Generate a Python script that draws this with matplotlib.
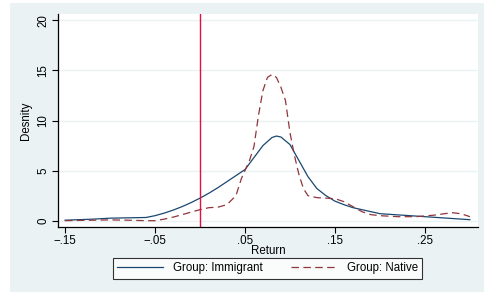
import matplotlib
matplotlib.use("Agg")
import matplotlib.pyplot as plt
from matplotlib.patches import Rectangle

# density curves
x_imm = [-0.15, -0.12, -0.10, -0.06, -0.05, -0.04, -0.03, -0.02, -0.01, 0.0,
         0.01, 0.02, 0.03, 0.04, 0.05, 0.06, 0.07, 0.08, 0.085, 0.09, 0.10,
         0.11, 0.12, 0.13, 0.14, 0.15, 0.16, 0.17, 0.20, 0.25, 0.30]
y_imm = [0.05, 0.15, 0.25, 0.32, 0.5, 0.75, 1.05, 1.4, 1.8, 2.25,
         2.75, 3.3, 3.9, 4.5, 5.1, 6.3, 7.5, 8.3, 8.45, 8.35, 7.6,
         6.0, 4.4, 3.2, 2.5, 1.95, 1.6, 1.3, 0.7, 0.4, 0.1]

x_nat = [-0.15, -0.12, -0.10, -0.08, -0.06, -0.05, -0.04, -0.03, -0.02, -0.01,
         0.0, 0.01, 0.02, 0.03, 0.04, 0.046, 0.05, 0.055, 0.06, 0.065, 0.07,
         0.075, 0.08, 0.085, 0.09, 0.095, 0.10, 0.105, 0.11, 0.115, 0.12,
         0.13, 0.14, 0.15, 0.16, 0.17, 0.18, 0.19, 0.20, 0.22, 0.24, 0.26,
         0.28, 0.29, 0.30]
y_nat = [0.0, 0.05, 0.08, 0.05, 0.0, 0.0, 0.15, 0.35, 0.6, 0.85,
         1.1, 1.3, 1.35, 1.6, 2.5, 4.2, 5.0, 6.0, 7.4, 10.5, 13.0,
         14.3, 14.6, 14.3, 13.3, 12.0, 8.8, 6.5, 4.6, 3.2, 2.5,
         2.3, 2.25, 2.2, 1.9, 1.4, 0.9, 0.6, 0.5, 0.4, 0.4, 0.55,
         0.8, 0.7, 0.4]

xticks = [-0.15, -0.05, 0.05, 0.15, 0.25]
xtick_labels = ["\u2212.15", "\u2212.05", ".05", ".15", ".25"]
yticks = [0, 5, 10, 15, 20]
cutoff = 0.0

plt.rcParams['font.family'] = ['Liberation Sans', 'DejaVu Sans']
fs = 8.3

fig = plt.figure(figsize=(4.84, 2.92), dpi=100, facecolor="white")
fig.patches.append(Rectangle((10/484, 0), 474/484, 289/292, transform=fig.transFigure,
                             facecolor="#eaf2f3", edgecolor="none", zorder=-10))
ax = fig.add_axes([58/484, 1 - 227/292, 420/484, 213/292])
ax.set_facecolor("white")

ax.plot(x_imm, y_imm, color="#1a476f", lw=0.9, label="Group: Immigrant")
ax.plot(x_nat, y_nat, color="#90353b", lw=0.9, dashes=(6, 3.5), label="Group: Native")
ax.axvline(cutoff, color="#e0103f", lw=1.0)

ax.set_xlim(-0.1578, 0.309)
ax.set_ylim(-0.63, 20.63)
ax.set_xticks(xticks)
ax.set_xticklabels(xtick_labels, fontsize=fs)
ax.set_yticks(yticks)
ax.set_yticklabels([str(v) for v in yticks], fontsize=fs, rotation=90, va="center")
ax.grid(axis="y", color="#eaf2f3", lw=1.0)
ax.set_axisbelow(True)
for s in ["top", "right"]:
    ax.spines[s].set_visible(False)
ax.spines["left"].set_linewidth(0.9)
ax.spines["bottom"].set_linewidth(0.9)
ax.tick_params(length=4, width=0.8, pad=2)
ax.set_xlabel("Return", fontsize=fs, labelpad=-1.5)
ax.set_ylabel("Desnity", fontsize=fs, labelpad=4)

leg = fig.legend(loc="center", bbox_to_anchor=(267.5/484, 1 - 268.5/292), ncol=2,
                 fontsize=fs, frameon=True, fancybox=False, handlelength=4.0,
                 columnspacing=2.5, borderpad=0.35, handletextpad=0.8)
leg.get_frame().set_edgecolor("black")
leg.get_frame().set_linewidth(0.8)

fig.savefig("out.png", dpi=100)
